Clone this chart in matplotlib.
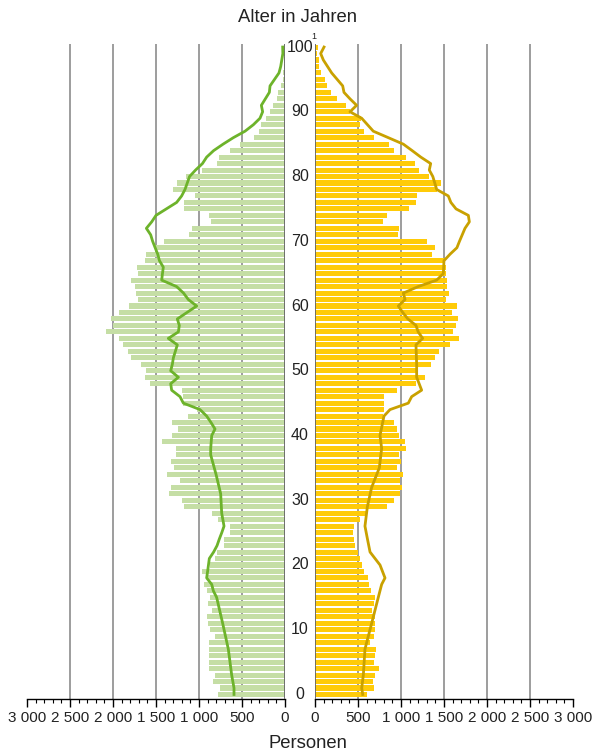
import matplotlib
matplotlib.use("Agg")
import matplotlib.pyplot as plt
import matplotlib.transforms as mtransforms
from matplotlib.ticker import MultipleLocator, FuncFormatter

plt.rcParams['font.family'] = ['Liberation Sans', 'DejaVu Sans']

# ages 0..100
ages = list(range(101))

# bars: persons by age (left = green side, right = yellow side), age 0 first
left_bars = [775, 756, 833, 814, 880, 888, 888, 880, 880, 814,
             872, 891, 903, 849, 891, 872, 903, 938, 903, 961,
             872, 814, 795, 709, 709, 640, 640, 780, 849, 1174,
             1198, 1349, 1326, 1221, 1372, 1291, 1326, 1264, 1264, 1430,
             1314, 1244, 1314, 1124, 1027, 1190, 1190, 1200, 1570, 1624,
             1616, 1674, 1791, 1826, 1888, 1930, 2081, 2004, 2023, 1930,
             1814, 1713, 1733, 1740, 1791, 1713, 1721, 1624, 1616, 1512,
             1407, 1116, 1081, 860, 884, 1174, 1174, 1047, 1298, 1252,
             1151, 969, 791, 767, 640, 523, 360, 299, 283, 221,
             174, 136, 93, 78, 47, 20, 25, 15, 12, 10, 8]
right_bars = [605, 686, 674, 698, 744, 686, 698, 709, 640, 686,
              698, 698, 698, 663, 686, 698, 651, 628, 616, 570,
              547, 523, 500, 465, 453, 442, 453, 523, 593, 837,
              919, 988, 1012, 988, 1023, 953, 1000, 977, 1058, 1047,
              977, 953, 919, 791, 802, 802, 802, 953, 1174, 1279,
              1182, 1349, 1395, 1442, 1570, 1674, 1605, 1640, 1663, 1593,
              1651, 1523, 1558, 1535, 1535, 1519, 1519, 1512, 1360, 1395,
              1302, 965, 977, 791, 837, 1093, 1174, 1186, 1415, 1465,
              1326, 1209, 1163, 1058, 919, 860, 686, 570, 523, 535,
              407, 360, 256, 186, 140, 116, 70, 47, 47, 19, 31]

# comparison lines
left_line_ages = [0, 1, 3, 7, 11, 15, 16, 17, 18, 19, 20, 21, 22, 23, 24, 25, 26,
                  28, 31, 34, 37, 38, 40, 41, 42, 43, 44, 45, 46, 47, 48, 49,
                  50, 51, 52, 53, 54, 55, 56, 57, 58, 59, 60, 61, 62, 63, 64,
                  65, 66, 67, 68, 70, 71, 72, 73, 74, 75, 76, 77, 78, 80, 81,
                  82, 83, 84, 85, 86, 87, 88, 89, 90, 91, 93, 94, 96, 97, 99, 100]
left_line = [593, 593, 620, 659, 725, 795, 833, 852, 911, 900, 890, 880, 830,
             790, 764, 735, 709, 736, 748, 802, 864, 864, 852, 814, 860, 911,
             988, 1182, 1221, 1318, 1329, 1240, 1329, 1310, 1298, 1275, 1252,
             1357, 1240, 1229, 1252, 1140, 1027, 1124, 1180, 1260, 1434, 1425,
             1415, 1460, 1480, 1539, 1562, 1612, 1550, 1500, 1380, 1260, 1202,
             1163, 1110, 1040, 960, 911, 830, 720, 601, 465, 368, 291, 260, 275,
             182, 174, 70, 50, 25, 27]
right_line_ages = [0, 1, 3, 7, 11, 15, 17, 18, 20, 22, 24, 26, 29, 32, 35, 38,
                   40, 43, 44, 45, 46, 47, 49, 51, 54, 55, 56, 57, 58, 59, 60,
                   61, 62, 63, 64, 65, 67, 68, 69, 70, 72, 73, 74, 75, 76, 77,
                   78, 80, 81, 82, 83, 84, 85, 86, 87, 89, 90, 91, 92, 93, 94,
                   96, 98, 99, 100]
right_line = [555, 543, 562, 581, 659, 736, 775, 814, 756, 640, 610, 581, 609,
              659, 748, 775, 756, 802, 872, 1085, 1124, 1240, 1182, 1182, 1174,
              1252, 1200, 1174, 1080, 1020, 969, 1047, 1027, 1200, 1415, 1492,
              1500, 1570, 1650, 1680, 1744, 1795, 1783, 1640, 1580, 1550, 1415,
              1370, 1329, 1345, 1230, 1130, 1027, 853, 678, 543, 407, 484, 407,
              337, 322, 194, 97, 66, 105]

W, H = 598, 756
fig = plt.figure(figsize=(W / 100, H / 100), dpi=100)

y_bot, y_top = -0.7, 100.5
ax_b = 1 - 699 / H
ax_h = (699 - 43.8) / H
axL = fig.add_axes([27 / W, ax_b, 258 / W, ax_h])
axR = fig.add_axes([315 / W, ax_b, 258 / W, ax_h])

bar_col = {'L': '#c5dea5', 'R': '#ffcb08'}
line_col = {'L': '#6db32b', 'R': '#c9a100'}

fmt = FuncFormatter(lambda v, p: '{:,}'.format(int(v)).replace(',', ' '))

for ax, bars, lx, ly, key in [(axL, left_bars, left_line_ages, left_line, 'L'),
                              (axR, right_bars, right_line_ages, right_line, 'R')]:
    for g in range(500, 3000, 500):
        ax.axvline(g, color='#8c8c8c', lw=1.2, zorder=0)
    ax.axvline(0, color='#666666', lw=1.3, zorder=3)
    ax.barh(ages, bars, height=0.78, color=bar_col[key], zorder=1)
    ax.plot(ly, lx, color=line_col[key], lw=2.0, zorder=4, solid_joinstyle='round')
    ax.set_xlim(0, 3000)
    ax.set_ylim(y_bot, y_top)
    for s in ['top', 'left', 'right']:
        ax.spines[s].set_visible(False)
    ax.spines['bottom'].set_linewidth(1.0)
    ax.set_yticks([])
    ax.xaxis.set_major_locator(MultipleLocator(500))
    ax.xaxis.set_minor_locator(MultipleLocator(100))
    ax.xaxis.set_major_formatter(fmt)
    ax.tick_params(axis='x', which='major', length=5.5, width=1.0, labelsize=11,
                   pad=3, labelcolor='#222222')
    ax.tick_params(axis='x', which='minor', length=3, width=0.8)

axL.invert_xaxis()

tr = mtransforms.blended_transform_factory(fig.transFigure, axL.transData)
for a in range(0, 101, 10):
    axL.text(300 / W, a, str(a), transform=tr, ha='center', va='center',
             fontsize=11.5, color='#222222', clip_on=False)
axL.text(311 / W, 101.6, '1', transform=tr, ha='left', va='center',
         fontsize=6.5, color='#222222', clip_on=False)

fig.text(298 / W, 1 - 17 / H, 'Alter in Jahren', ha='center', va='center',
         fontsize=13.3, color='#222222')
fig.text(308 / W, 1 - 744 / H, 'Personen', ha='center', va='center',
         fontsize=13.3, color='#222222')

fig.savefig('out.png', dpi=100)
